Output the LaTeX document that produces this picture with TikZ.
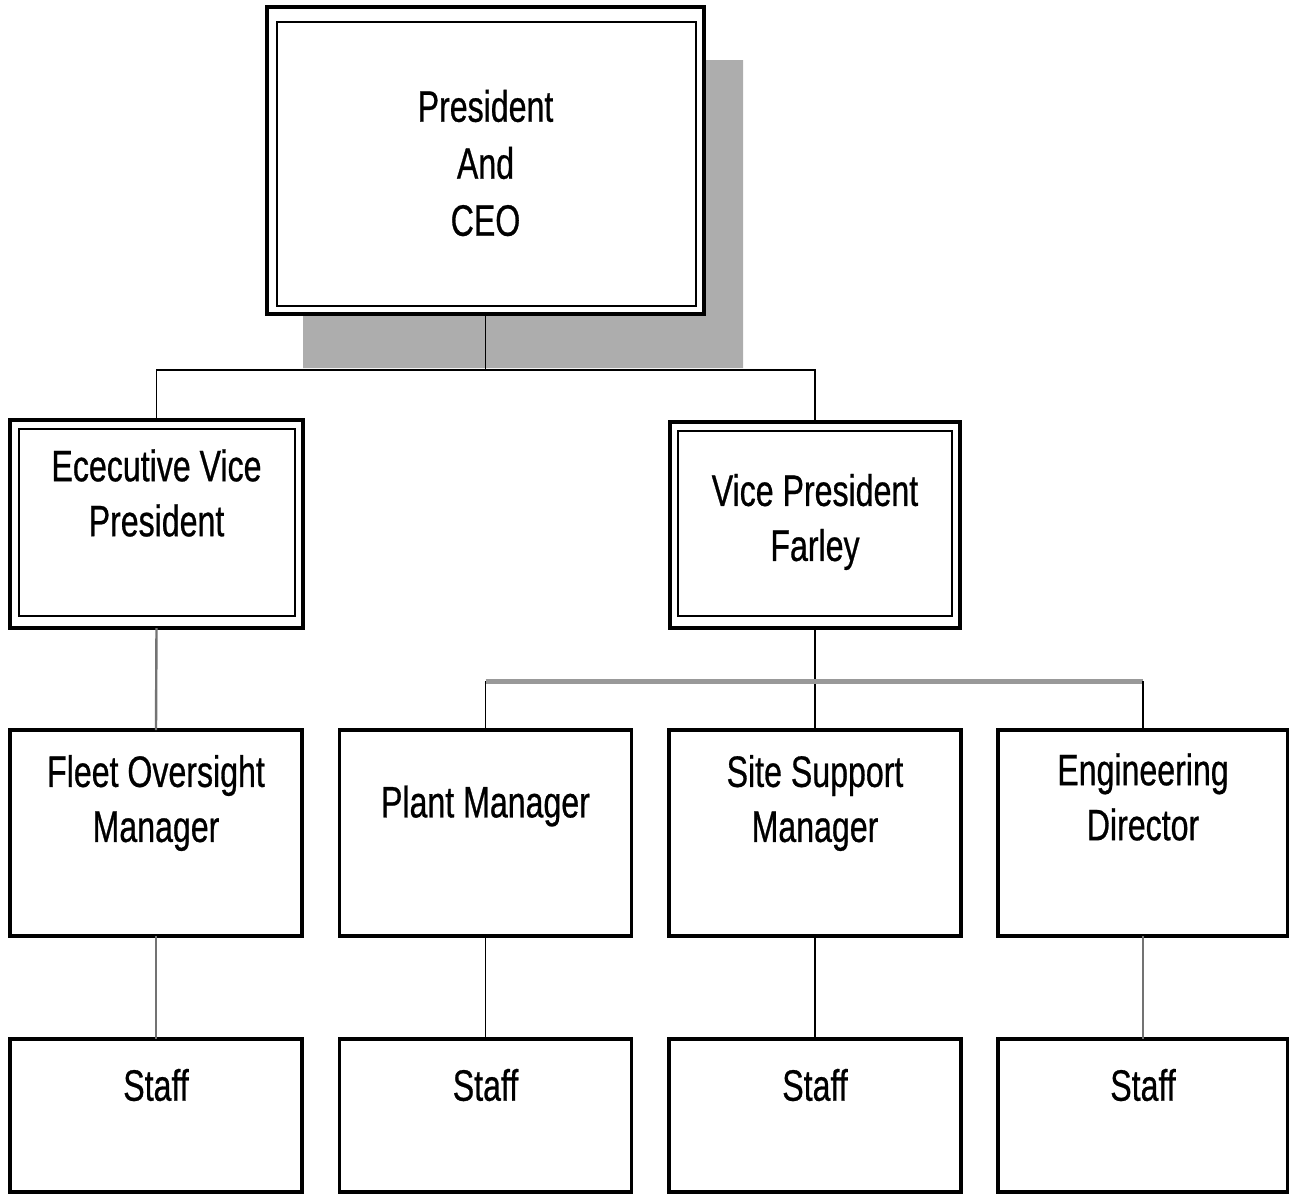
\documentclass[tikz,border=0pt]{standalone}
\usepackage{fontspec}
\setmainfont{Liberation Sans}[FakeStretch=0.73,FakeBold=0.6]
\begin{document}
\begin{tikzpicture}[x=1pt,y=-1pt,
  box/.style={draw=black,line width=3.5pt,fill=white,rectangle,outer sep=0pt,inner sep=0pt},
  txt/.style={align=center,font=\fontsize{44}{55}\selectfont,inner sep=0pt},
  link/.style={draw=black,line width=1.8pt},
  softlink/.style={draw=black!55,line width=2.4pt},
  bus/.style={draw=black!40,line width=5pt},
  shade/.style={fill=black!32,draw=none}]
\useasboundingbox (0,0) rectangle (1289,1195);

% drop shadow behind the top box
\fill[shade] (706,60) -- (743,60) -- (743,368) -- (303,368) -- (303,316) -- (706,316) -- cycle;

% top level
\node[box,minimum width=437,minimum height=307] (ceo) at (485.5,160.5) {};
\draw[line width=2.2pt] ([shift={(10,15)}]ceo.north west) rectangle ([shift={(-8,-8)}]ceo.south east);
\node[txt] (ceot) at (485.5,163) {President\\[2pt]And\\[2pt]CEO};

% second level
\node[box,minimum width=293,minimum height=208] (evp) at (156.5,524) {};
\draw[line width=2pt] ([shift={(9,9)}]evp.north west) rectangle ([shift={(-8,-12)}]evp.south east);
\node[txt] (evpt) at (156.5,493) {Ececutive Vice\\President};

\node[box,minimum width=290,minimum height=206] (vp) at (815,525) {};
\draw[line width=2pt] ([shift={(8,9)}]vp.north west) rectangle ([shift={(-8,-12)}]vp.south east);
\node[txt] (vpt) at (815,522) {Vice President\\Farley};

% third level
\node[box,minimum width=292,minimum height=206] (fleet) at (156,833) {};
\node[txt] (fleett) at (156,803) {Fleet Oversight\\Manager};
\node[box,minimum width=292,minimum height=206] (plant) at (485.5,833) {};
\node[txt] (plantt) at (485.5,806) {Plant Manager};
\node[box,minimum width=292,minimum height=206] (site) at (815,833) {};
\node[txt] (sitet) at (815,803) {Site Support\\Manager};
\node[box,minimum width=290,minimum height=206] (eng) at (1143,833) {};
\node[txt] (engt) at (1143,797) {Engineering\\Director};

% staff level
\node[box,minimum width=292,minimum height=153] (s1) at (156,1115.5) {};
\node[txt] (s1t) at (156,1085) {Staff};
\node[box,minimum width=292,minimum height=153] (s2) at (485.5,1115.5) {};
\node[txt] (s2t) at (485.5,1085) {Staff};
\node[box,minimum width=292,minimum height=153] (s3) at (815,1115.5) {};
\node[txt] (s3t) at (815,1085) {Staff};
\node[box,minimum width=290,minimum height=153] (s4) at (1143,1115.5) {};
\node[txt] (s4t) at (1143,1085) {Staff};

% connectors
\coordinate (bus1) at (485.5,370);
\coordinate (bus2) at (815,681);
\draw[link] (ceo.south) -- (bus1);
\draw[link] (evp.north) |- (bus1) -| (vp.north);

\draw[softlink] (evp.south) -- (fleet.north);
\draw[link] (vp.south) -- (site.north);
\draw[bus] (plant.north |- bus2) -- (eng.north |- bus2);
\draw[link] (plant.north) -- (plant.north |- bus2);
\draw[link] (eng.north) -- (eng.north |- bus2);

\draw[softlink] (fleet.south) -- (s1.north);
\draw[link] (plant.south) -- (s2.north);
\draw[link] (site.south) -- (s3.north);
\draw[softlink] (eng.south) -- (s4.north);
\end{tikzpicture}
\end{document}
